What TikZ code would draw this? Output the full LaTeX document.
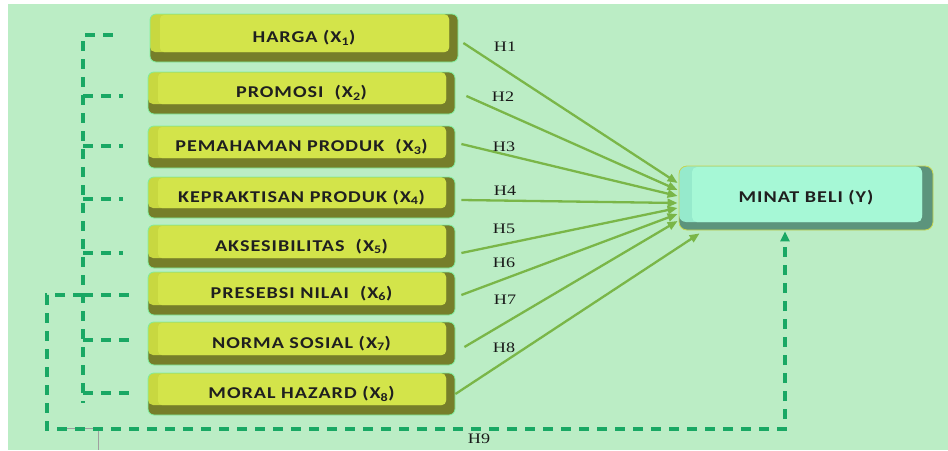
\documentclass[tikz,border=0pt]{standalone}
\usepackage{fontspec}
\usetikzlibrary{calc,arrows.meta}
\newfontfamily\boxfont{Carlito}[FakeStretch=1.22,LetterSpace=6]
\newfontfamily\hfont{Liberation Serif}[FakeStretch=1.25]

\definecolor{bgGreen}{RGB}{187,237,197}
\definecolor{faceY}{RGB}{211,228,74}
\definecolor{bevelY}{RGB}{200,216,64}
\definecolor{darkY}{RGB}{118,126,42}
\definecolor{glowG}{RGB}{130,240,160}
\definecolor{faceA}{RGB}{166,248,214}
\definecolor{bevelA}{RGB}{150,234,204}
\definecolor{darkA}{RGB}{92,148,124}
\definecolor{rimA}{RGB}{200,214,80}
\definecolor{arrowG}{RGB}{122,182,72}
\definecolor{dashG}{RGB}{25,168,100}

\begin{document}
\begin{tikzpicture}[x=1pt,y=-1pt,
  varbox/.style={rounded corners=6pt, minimum width=307pt, minimum height=#1,
    inner sep=0pt, fill=darkY, draw=glowG, line width=0.8pt,
    font=\boxfont\bfseries\fontsize{16.5}{18}\selectfont, text=black!88,
    path picture={
      \fill[bevelY, rounded corners=5pt] (path picture bounding box.north west)
        rectangle ($(path picture bounding box.south east)+(-9,-10)$);
      \fill[faceY, rounded corners=4pt] ($(path picture bounding box.north west)+(10,1)$)
        rectangle ($(path picture bounding box.south east)+(-9,-10)$);
    }},
  ybox/.style={rounded corners=8pt, minimum width=254pt, minimum height=64pt,
    inner sep=0pt, fill=darkA, draw=rimA, line width=0.8pt,
    font=\boxfont\bfseries\fontsize{16.5}{18}\selectfont, text=black!88,
    path picture={
      \fill[bevelA, rounded corners=7pt] (path picture bounding box.north west)
        rectangle ($(path picture bounding box.south east)+(-11,-8)$);
      \fill[faceA, rounded corners=5pt] ($(path picture bounding box.north west)+(13,1)$)
        rectangle ($(path picture bounding box.south east)+(-11,-8)$);
    }},
  arr/.style={arrowG, line width=2.3pt, -{Triangle[length=10pt,width=8pt]}},
  dsh/.style={dashG, line width=3.2pt, dash pattern=on 10pt off 8pt},
  hlab/.style={font=\hfont\fontsize{14.5}{16}\selectfont, text=black!90, inner sep=0pt}
]
\useasboundingbox (0,0) rectangle (948,450);
\fill[bgGreen] (8,4) rectangle (948,450);

% predictor boxes
\node[varbox=48pt, minimum width=308pt] (x1) at (304,38)    {HARGA (X\textsubscript{1})};
\node[varbox=42pt] (x2) at (301.5,93)    {PROMOSI~ (X\textsubscript{2})};
\node[varbox=42pt] (x3) at (301.5,147)   {PEMAHAMAN PRODUK~ (X\textsubscript{3})};
\node[varbox=41pt] (x4) at (301.5,197.5) {KEPRAKTISAN PRODUK (X\textsubscript{4})};
\node[varbox=43pt] (x5) at (301.5,246.5) {AKSESIBILITAS~ (X\textsubscript{5})};
\node[varbox=43pt] (x6) at (301.5,293.5) {PRESEBSI NILAI~ (X\textsubscript{6})};
\node[varbox=43pt] (x7) at (301.5,343.5) {NORMA SOSIAL (X\textsubscript{7})};
\node[varbox=42pt] (x8) at (301.5,394)   {MORAL HAZARD (X\textsubscript{8})};

% dependent variable
\node[ybox] (y) at (806,198) {MINAT BELI (Y)};

% direct effects
\draw[arr] ($(x1.east)+(5,5)$)   -- ($(y.west)+(-1,-15)$);
\draw[arr] ($(x2.east)+(11,3)$)  -- ($(y.west)+(-1,-8)$);
\draw[arr] ($(x3.east)+(6,-3)$)  -- ($(y.west)+(-1,-2)$);
\draw[arr] ($(x4.east)+(6,2.5)$) -- ($(y.west)+(-1,5)$);
\draw[arr] ($(x5.east)+(6,6.5)$) -- ($(y.west)+(-1,10)$);
\draw[arr] ($(x6.east)+(6,1.5)$) -- ($(y.west)+(-1,16)$);
\draw[arr] ($(x7.east)+(9,3.5)$) -- ($(y.west)+(-1,23)$);
\draw[arr] ($(x8.east)+(0,0)$)   -- ($(y.south west)+(21,3)$);

% hypothesis labels
\node[hlab] (h1) at (505,47)    {H1};
\node[hlab] (h2) at (503,97)    {H2};
\node[hlab] (h3) at (504,147)   {H3};
\node[hlab] (h4) at (505,191)   {H4};
\node[hlab] (h5) at (504,229)   {H5};
\node[hlab] (h6) at (504,262.5) {H6};
\node[hlab] (h7) at (505,300)   {H7};
\node[hlab] (h8) at (504,348)   {H8};
\node[hlab] (h9) at (479,439)   {H9};

% thin grey mark under the joint path
\draw[gray!75, line width=0.8pt] (67,428) -- (98,428) -- (98,450);

% bracket grouping all predictors
\coordinate (sp) at (83,35);
\coordinate (sb) at (83,403);
\coordinate (t1) at ($(x1.west)+(-37,-3)$);
\coordinate (t2) at ($(x2.west)+(-25,3)$);
\coordinate (t3) at ($(x3.west)+(-25,-1)$);
\coordinate (t4) at ($(x4.west)+(-25,1.5)$);
\coordinate (t5) at ($(x5.west)+(-25,6.5)$);
\coordinate (t6) at ($(x6.west)+(-15,1.5)$);
\coordinate (t7) at ($(x7.west)+(-15,-3.5)$);
\coordinate (t8) at ($(x8.west)+(-15,-1)$);
\draw[dsh] (t1) -- (t1 -| sp) -- (sb);
\foreach \t in {t2,t3,t4,t5,t6,t7,t8}
  \draw[dsh] (\t -| sp) -- (\t);

% joint effect H9
\coordinate (lc) at (47,429);
\draw[dsh, -{Triangle[length=10pt,width=9pt]}] (t6 -| sp) -| (lc) -| ($(y.south)+(-21,1)$);
\end{tikzpicture}
\end{document}
